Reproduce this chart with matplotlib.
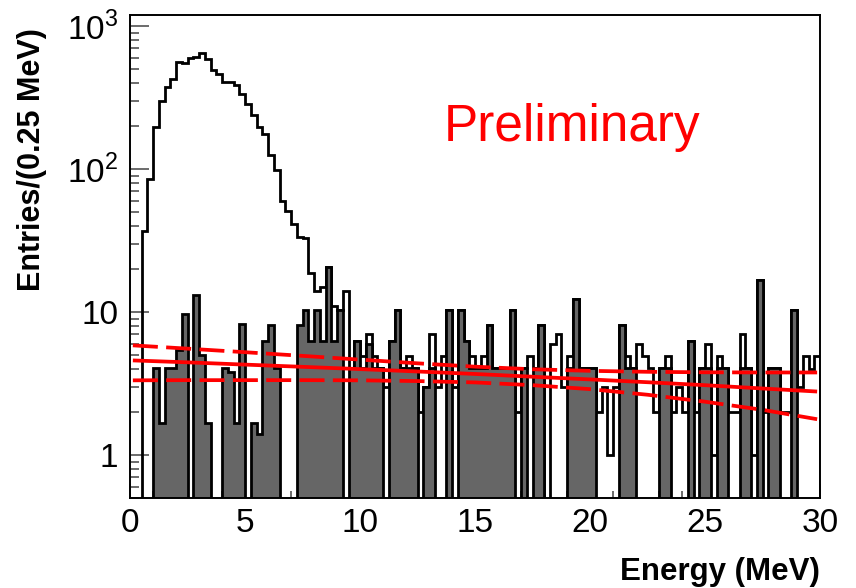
import numpy as np
import matplotlib
matplotlib.use("Agg")
import matplotlib.pyplot as plt
from matplotlib.ticker import FixedLocator, FixedFormatter, LogLocator, MultipleLocator, NullFormatter

plt.rcParams['font.family'] = ['Liberation Sans', 'DejaVu Sans']
plt.rcParams['mathtext.fontset'] = 'custom'
plt.rcParams['mathtext.rm'] = 'Liberation Sans'
plt.rcParams['lines.scale_dashes'] = False

# ---------------- data ----------------
bin_width = 0.25
n_bins = 120

# all events (open histogram)
total_counts = [
    0, 0, 37, 86, 199, 301, 379, 431, 564, 551,
    604, 607, 648, 591, 498, 467, 408, 408, 391, 337,
    285, 239, 198, 175, 125, 98, 60, 51, 41.5, 33.8,
    33, 18.9, 14.0, 15.0, 20.6, 11.0, 10.3, 14.0, 4.08, 6.27,
    4.9, 7.0, 4.9, 4.08, 3.0, 6.27, 10.3, 4.08, 4.9, 4.08,
    2.0, 3.0, 7.0, 3.0, 4.9, 10.3, 3.0, 10.3, 6.27, 4.9,
    4.08, 4.9, 8.1, 4.08, 4.08, 4.08, 10.3, 2.0, 4.08, 4.9,
    4.08, 8.1, 0, 6.0, 7.0, 3.0, 4.9, 12.3, 4.08, 4.08,
    4.08, 2.0, 3.0, 1.0, 3.0, 8.1, 4.9, 4.08, 5.95, 4.9,
    4.08, 2.0, 4.08, 4.9, 2.0, 3.0, 2.0, 6.27, 2.0, 4.08,
    5.95, 1.0, 4.9, 4.08, 2.0, 2.0, 6.97, 4.08, 1.0, 16.7,
    2.0, 4.08, 4.08, 2.0, 2.0, 10.3, 3.0, 4.9, 4.0, 4.9,
]

# selected events (filled grey histogram)
selected_counts = [
    0, 0, 0, 0, 4.08, 1.67, 4.08, 4.08, 5.39, 9.63,
    0, 13.1, 5.0, 1.67, 0, 0, 4.08, 3.83, 1.67, 8.2,
    0, 1.67, 1.41, 6.27, 8.1, 4.08, 0, 0, 0, 8.1,
    10.3, 6.3, 10.3, 6.3, 20.6, 6.3, 10.3, 0, 4.08, 6.27,
    4.08, 6.0, 4.08, 4.08, 0, 6.27, 10.3, 4.08, 4.08, 4.08,
    0, 3.0, 4.08, 0, 0, 10.3, 0, 10.3, 6.27, 4.08,
    4.08, 4.08, 8.1, 4.08, 4.08, 4.08, 10.3, 0, 4.08, 0,
    4.08, 8.1, 0, 0, 0, 0, 4.08, 12.3, 4.08, 4.08,
    4.08, 0, 0, 0, 0, 8.1, 4.08, 4.08, 0, 0,
    0, 0, 4.08, 4.08, 0, 0, 0, 6.27, 0, 4.08,
    4.08, 0, 4.08, 4.08, 0, 0, 4.08, 4.08, 0, 16.7,
    0, 4.08, 4.08, 0, 0, 10.3, 0, 0, 0, 0,
]

# linear fit and its error band (sampled along energy)
fit_energy = [0.125, 2.5, 5, 7.5, 10, 12.5, 15, 17.5, 20, 22.5, 25, 27.5, 29.875]
fit_central = [4.59, 4.45, 4.29, 4.14, 3.99, 3.84, 3.69, 3.53, 3.38, 3.23, 3.08, 2.92, 2.78]
fit_upper = [5.85, 5.55, 5.24, 4.94, 4.65, 4.38, 4.15, 3.98, 3.88, 3.82, 3.79, 3.78, 3.78]
fit_lower = [3.33, 3.34, 3.34, 3.34, 3.33, 3.29, 3.22, 3.08, 2.89, 2.64, 2.36, 2.07, 1.78]

y_tick_values = [1, 10, 100, 1000]
y_tick_labels = ['1', '10', '10$^{2}$', '10$^{3}$']
x_tick_values = [0, 5, 10, 15, 20, 25, 30]

# ---------------- plot ----------------
W, H = 856, 588
fig = plt.figure(figsize=(W / 100, H / 100), dpi=100)
ax = fig.add_axes([130 / W, 1 - 498 / H, 690 / W, 483 / H])
ax.set_yscale('log')
ax.set_xlim(0, 30)
ax.set_ylim(0.5, 1200)
ax.set_axisbelow(True)

edges = np.arange(n_bins + 1) * bin_width
floor = 0.1
tot = np.array(total_counts, dtype=float)
sel = np.array(selected_counts, dtype=float)
tot_p = np.where(tot > 0, tot, floor)
sel_p = np.where(sel > 0, sel, floor)

ax.stairs(tot_p, edges, baseline=floor, fill=False, color='black', lw=2.0, zorder=2.0)
ax.stairs(sel_p, edges, baseline=floor, fill=True, facecolor='#666666', edgecolor='none', zorder=2.1)
ax.stairs(sel_p, edges, baseline=floor, fill=False, color='black', lw=2.0, zorder=2.2)

ax.plot(fit_energy, fit_central, color='red', lw=2.7, zorder=3, solid_capstyle='butt')
for band in (fit_upper, fit_lower):
    ax.plot(fit_energy, band, color='red', lw=2.7, zorder=3, dashes=(18, 6))

# axes styling
for s in ax.spines.values():
    s.set_color('black')
    s.set_linewidth(1.4)
    s.set_zorder(4)

ax.yaxis.set_major_locator(FixedLocator(y_tick_values))
ax.yaxis.set_major_formatter(FixedFormatter(y_tick_labels))
ax.yaxis.set_minor_locator(LogLocator(base=10, subs=[2, 3, 4, 5, 6, 7, 8, 9], numticks=20))
ax.yaxis.set_minor_formatter(NullFormatter())
ax.xaxis.set_major_locator(FixedLocator(x_tick_values))
ax.xaxis.set_minor_locator(MultipleLocator(1))

ax.tick_params(axis='y', which='major', direction='in', length=13.7, width=1.1,
               color='#444444', labelsize=24, pad=8.5, right=False)
ax.tick_params(axis='y', which='minor', direction='in', length=6.5, width=1.1,
               color='#444444', right=False)
ax.tick_params(axis='x', which='major', direction='in', length=10, width=1.1,
               color='#444444', labelsize=24, pad=7, top=False)
ax.tick_params(axis='x', which='minor', direction='in', length=5, width=1.1,
               color='#444444', top=False)

fig.text(32 / W, 1 - 28 / H, 'Entries/(0.25 MeV)', rotation=90, ha='center', va='top',
         fontsize=22, fontweight='bold')
fig.text(820 / W, 1 - 580 / H, 'Energy (MeV)', ha='right', va='baseline',
         fontsize=22.5, fontweight='bold')
fig.text(444 / W, 1 - 141.5 / H, 'Preliminary', ha='left', va='baseline',
         fontsize=37, color='red')

fig.savefig('out.png', dpi=100)
